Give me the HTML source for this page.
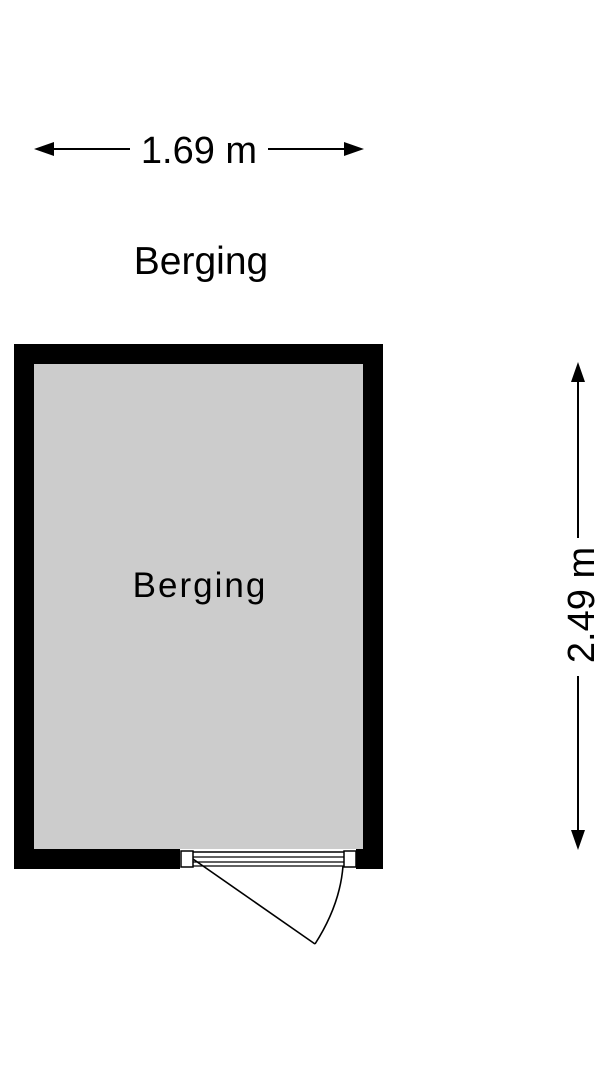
<!DOCTYPE html>
<html><head><style>body{margin:0;background:#fff}</style></head><body>
<svg width="608" height="1080" xmlns="http://www.w3.org/2000/svg" style="display:block">
<rect x="0" y="0" width="608" height="1080" fill="#fff"/>
<line x1="48" y1="149" x2="130" y2="149" stroke="#000" stroke-width="2"/>
<line x1="268" y1="149" x2="350" y2="149" stroke="#000" stroke-width="2"/>
<polygon points="34,149 54,142 54,156" fill="#000"/>
<polygon points="364,149 344,142 344,156" fill="#000"/>
<text x="199" y="163" font-family="Liberation Sans, sans-serif" font-size="38" text-anchor="middle">1.69 m</text>
<text x="201" y="274" font-family="Liberation Sans, sans-serif" font-size="39" text-anchor="middle">Berging</text>
<rect x="14" y="344" width="369" height="525" fill="#000"/>
<rect x="34" y="364" width="329" height="485" fill="#cccccc"/>
<rect x="180" y="849" width="176" height="20" fill="#fff"/>
<rect x="181" y="851" width="12" height="16" fill="#fff" stroke="#000" stroke-width="1.5"/>
<rect x="344" y="851" width="12" height="16" fill="#fff" stroke="#000" stroke-width="1.5"/>
<line x1="193" y1="852" x2="344" y2="852" stroke="#000" stroke-width="1.5"/>
<line x1="193" y1="857" x2="344" y2="857" stroke="#000" stroke-width="1.2"/>
<line x1="193" y1="862" x2="344" y2="862" stroke="#000" stroke-width="1.2"/>
<line x1="193" y1="866" x2="344" y2="866" stroke="#000" stroke-width="1.2"/>
<line x1="193" y1="859" x2="315" y2="944" stroke="#000" stroke-width="1.6"/>
<path d="M315,944 Q340,905 343,866" fill="none" stroke="#000" stroke-width="1.6"/>
<text x="200" y="597" font-family="Liberation Sans, sans-serif" font-size="35" text-anchor="middle" letter-spacing="2">Berging</text>
<line x1="578" y1="376" x2="578" y2="538" stroke="#000" stroke-width="2"/>
<line x1="578" y1="676" x2="578" y2="836" stroke="#000" stroke-width="2"/>
<polygon points="578,362 571,382 585,382" fill="#000"/>
<polygon points="578,850 571,830 585,830" fill="#000"/>
<text x="0" y="0" transform="translate(594,605) rotate(-90)" font-family="Liberation Sans, sans-serif" font-size="38" text-anchor="middle">2.49 m</text>
</svg>
</body></html>
